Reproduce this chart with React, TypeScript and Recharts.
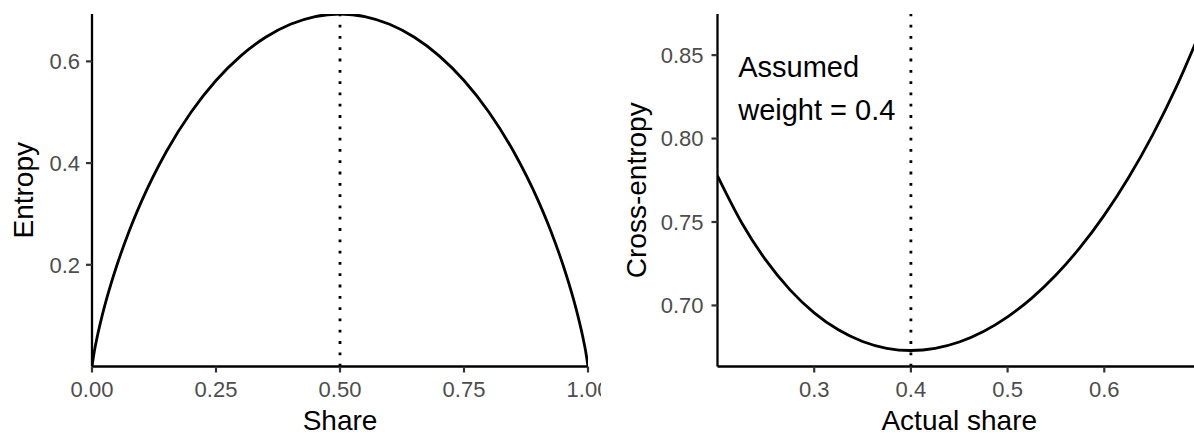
import React from 'react';
import { LineChart, Line, XAxis, YAxis, ReferenceLine, ReferenceDot } from 'recharts';

const FONT = '"Liberation Sans", Arial, Helvetica, sans-serif';

// Left panel: entropy vs share
const shareX = [0, 0.005, 0.01, 0.02, 0.03, 0.05, 0.075, 0.1, 0.15, 0.2, 0.25, 0.3, 0.35, 0.4, 0.45, 0.5,
  0.55, 0.6, 0.65, 0.7, 0.75, 0.8, 0.85, 0.9, 0.925, 0.95, 0.97, 0.98, 0.99, 0.995, 1];
const entropyY = [0, 0.03148, 0.056, 0.09804, 0.13475, 0.19852, 0.26638, 0.32508, 0.42271, 0.5004, 0.56233, 0.61086, 0.64744, 0.67301, 0.68814, 0.69315,
  0.68814, 0.67301, 0.64744, 0.61086, 0.56233, 0.5004, 0.42271, 0.32508, 0.26638, 0.19852, 0.13475, 0.09804, 0.056, 0.03148, 0];
const leftXTicks = [0, 0.25, 0.5, 0.75, 1];
const leftYTicks = [0.2, 0.4, 0.6];

// Right panel: cross-entropy vs actual share (assumed weight 0.4)
const actualX = [0.2, 0.225, 0.25, 0.275, 0.3, 0.325, 0.35, 0.375, 0.4, 0.425, 0.45, 0.475, 0.5,
  0.525, 0.55, 0.575, 0.6, 0.625, 0.65, 0.675, 0.7];
const crossY = [0.77766, 0.74959, 0.72713, 0.70934, 0.69559, 0.6854, 0.6784, 0.67433, 0.67301, 0.6743, 0.67811, 0.68439, 0.69315,
  0.70441, 0.71824, 0.73476, 0.75411, 0.7765, 0.80221, 0.83158, 0.86505];
const rightXTicks = [0.3, 0.4, 0.5, 0.6];
const rightYTicks = [0.7, 0.75, 0.8, 0.85];

const leftData = shareX.map((x, i) => ({ x, y: entropyY[i] }));
const rightData = actualX.map((x, i) => ({ x, y: crossY[i] }));

const tickStyle = { fill: '#4d4d4d', fontSize: 22, fontFamily: FONT };
const tickLine = { stroke: '#333333', strokeWidth: 2.2 };
const axisLine = { stroke: '#000000', strokeWidth: 2.3 };

const xTitle = (text: string) => (props: any) => {
  const vb = props.viewBox || {};
  return (
    <text x={vb.x + vb.width / 2} y={vb.y + 63} textAnchor="middle" fontSize={28} fill="#000" fontFamily={FONT}>
      {text}
    </text>
  );
};

const yTitle = (text: string, bx: number) => (props: any) => {
  const vb = props.viewBox || {};
  const cx = vb.x + bx;
  const cy = vb.y + vb.height / 2;
  return (
    <text x={cx} y={cy} transform={`rotate(-90 ${cx} ${cy})`} textAnchor="middle" fontSize={28} fill="#000" fontFamily={FONT}>
      {text}
    </text>
  );
};

const annLabel = (props: any) => {
  const vb = props.viewBox || {};
  return (
    <text x={vb.x} y={vb.y} fontSize={29} fill="#000" fontFamily={FONT}>
      <tspan x={vb.x} dy={0}>Assumed</tspan>
      <tspan x={vb.x} dy={43.5}>weight = 0.4</tspan>
    </text>
  );
};

export default function App() {
  return (
    <div style={{ position: 'absolute', left: 0, top: 0, width: 1194, height: 434, overflow: 'hidden', background: '#fff', fontFamily: FONT }}>
      <div style={{ position: 'absolute', left: 0, top: 0, width: 601, height: 434, overflow: 'hidden' }}>
        <LineChart width={601} height={434} data={leftData} margin={{ top: 14, right: 13, bottom: 0, left: 0 }}>
          <XAxis
            type="number"
            dataKey="x"
            domain={[0, 1]}
            ticks={leftXTicks}
            tickFormatter={(v: number) => v.toFixed(2)}
            tick={tickStyle}
            tickLine={tickLine}
            axisLine={axisLine}
            tickSize={6}
            tickMargin={8.5}
            height={67.5}
            interval={0}
            allowDataOverflow
            label={xTitle('Share')}
          />
          <YAxis
            type="number"
            domain={[0, 0.69315]}
            ticks={leftYTicks}
            tickFormatter={(v: number) => v.toFixed(1)}
            tick={tickStyle}
            tickLine={tickLine}
            axisLine={axisLine}
            tickSize={6}
            tickMargin={6}
            width={92}
            interval={0}
            allowDataOverflow
            label={yTitle('Entropy', 33)}
          />
          <ReferenceLine
            segment={[{ x: 0.5, y: 0 }, { x: 0.5, y: 0.69315 }]}
            stroke="#000"
            strokeWidth={2.8}
            strokeDasharray="2.8 8.5"
          />
          <Line type="monotone" dataKey="y" stroke="#000" strokeWidth={2.8} dot={false} isAnimationActive={false} />
        </LineChart>
      </div>
      <div style={{ position: 'absolute', left: 601, top: 0, width: 600, height: 434, overflow: 'hidden' }}>
        <LineChart width={600} height={434} data={rightData} margin={{ top: 14, right: 0, bottom: 0, left: 0 }}>
          <XAxis
            type="number"
            dataKey="x"
            domain={[0.2, 0.7]}
            ticks={rightXTicks}
            tickFormatter={(v: number) => v.toFixed(1)}
            tick={tickStyle}
            tickLine={tickLine}
            axisLine={axisLine}
            tickSize={6}
            tickMargin={8.5}
            height={67.5}
            interval={0}
            allowDataOverflow
            label={xTitle('Actual share')}
          />
          <YAxis
            type="number"
            domain={[0.66341, 0.87465]}
            ticks={rightYTicks}
            tickFormatter={(v: number) => v.toFixed(2)}
            tick={tickStyle}
            tickLine={tickLine}
            axisLine={axisLine}
            tickSize={6}
            tickMargin={8}
            width={116.5}
            interval={0}
            allowDataOverflow
            label={yTitle('Cross-entropy', 45)}
          />
          <ReferenceLine
            segment={[{ x: 0.4, y: 0.66341 }, { x: 0.4, y: 0.87465 }]}
            stroke="#000"
            strokeWidth={2.8}
            strokeDasharray="2.8 8.5"
          />
          <Line type="monotone" dataKey="y" stroke="#000" strokeWidth={2.8} dot={false} isAnimationActive={false} />
          <ReferenceDot x={0.2214} y={0.83707} r={0} fill="none" stroke="none" label={annLabel} />
        </LineChart>
      </div>
    </div>
  );
}
